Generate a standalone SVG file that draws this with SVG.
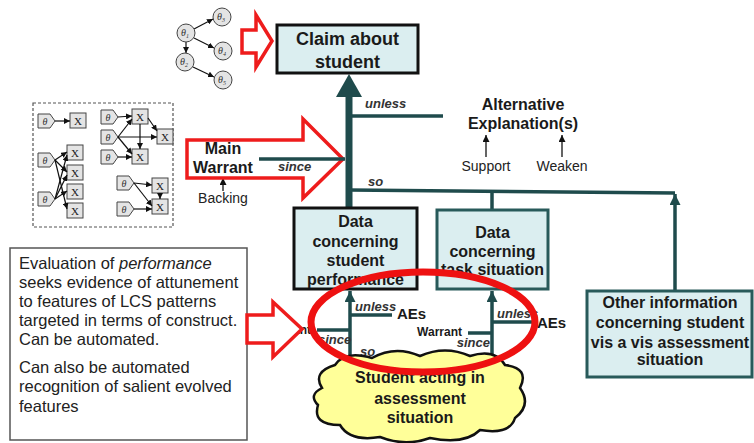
<svg xmlns="http://www.w3.org/2000/svg" width="754" height="443" viewBox="0 0 754 443">
<style>
.b{font-family:"Liberation Sans",Arial,sans-serif;font-weight:bold;fill:#1a1a1a;text-anchor:middle}
.bs{text-anchor:start}
.be{text-anchor:end}
.r{font-family:"Liberation Sans",Arial,sans-serif;fill:#222;}
.bi{font-family:"Liberation Sans",Arial,sans-serif;font-weight:bold;font-style:italic;fill:#333;font-size:13px}
.box{fill:#dbeef0;stroke:#285a5a;stroke-width:3}
.tl{stroke:#1f4b4c;stroke-width:3.5;fill:none}
.red{fill:#fff;stroke:#ee1c1c;stroke-width:3.5;stroke-linejoin:miter}
.nl{stroke:#111;stroke-width:1.2;fill:none;marker-end:url(#sm)}
.th{fill:#e4e4e4;stroke:#444;stroke-width:1}
.ser{font-family:"Liberation Serif",serif;font-style:italic;font-size:10px;fill:#333;text-anchor:middle}
.xs{font-family:"Liberation Serif",serif;font-size:11px;fill:#222;text-anchor:middle}
</style>
<defs>
<marker id="ah" viewBox="0 0 10 10" refX="10" refY="5" markerWidth="11" markerHeight="11" markerUnits="userSpaceOnUse" orient="auto"><path d="M0,0 L10,5 L0,10 z" fill="#1f4b4c"/></marker>
<marker id="ab" viewBox="0 0 10 10" refX="10" refY="5" markerWidth="7" markerHeight="7" markerUnits="userSpaceOnUse" orient="auto"><path d="M0,0 L10,5 L0,10 z" fill="#111"/></marker>
<marker id="sm" viewBox="0 0 10 10" refX="10" refY="5" markerWidth="6" markerHeight="6" markerUnits="userSpaceOnUse" orient="auto"><path d="M0,0 L10,5 L0,10 z" fill="#111"/></marker>
<g id="tn"><polygon class="th" points="0,0 12,0 17,7 12,14 0,14"/><text class="ser" x="7" y="11">θ</text></g>
<g id="xn"><rect class="th" width="16" height="15"/><text class="xs" x="8" y="12">X</text></g>
</defs>
<rect width="754" height="443" fill="#fff"/>

<!-- network box -->
<g id="network">
<rect x="33" y="103" width="140" height="124" fill="#fff" stroke="#555" stroke-width="1.2" stroke-dasharray="3,2"/>
<use href="#tn" x="38" y="114"/><use href="#xn" x="70" y="113"/>
<line class="nl" x1="55" y1="121" x2="70" y2="121"/>
<use href="#tn" x="101" y="110"/><use href="#tn" x="101" y="130"/><use href="#tn" x="101" y="150"/>
<use href="#xn" x="132" y="109"/><use href="#xn" x="157" y="129"/><use href="#xn" x="132" y="149"/>
<line class="nl" x1="118" y1="117" x2="132" y2="116"/>
<line class="nl" x1="118" y1="137" x2="132" y2="119"/>
<line class="nl" x1="118" y1="137" x2="157" y2="137"/>
<line class="nl" x1="118" y1="137" x2="132" y2="154"/>
<line class="nl" x1="118" y1="157" x2="132" y2="157"/>
<line class="nl" x1="140" y1="124" x2="140" y2="149"/>
<line class="nl" x1="148" y1="118" x2="157" y2="131"/>
<use href="#tn" x="38" y="153"/><use href="#tn" x="38" y="192"/>
<use href="#xn" x="67" y="145"/><use href="#xn" x="67" y="165"/><use href="#xn" x="67" y="184"/><use href="#xn" x="67" y="203"/>
<line class="nl" x1="55" y1="160" x2="67" y2="152"/>
<line class="nl" x1="55" y1="160" x2="67" y2="172"/>
<line class="nl" x1="55" y1="160" x2="67" y2="209"/>
<line class="nl" x1="55" y1="199" x2="67" y2="155"/>
<line class="nl" x1="55" y1="199" x2="67" y2="175"/>
<line class="nl" x1="55" y1="199" x2="67" y2="191"/>
<use href="#tn" x="117" y="176"/><use href="#tn" x="117" y="202"/>
<use href="#xn" x="152" y="178"/><use href="#xn" x="152" y="199"/>
<line class="nl" x1="134" y1="183" x2="152" y2="185"/>
<line class="nl" x1="134" y1="183" x2="152" y2="206"/>
<line class="nl" x1="160" y1="193" x2="160" y2="199"/>
<line class="nl" x1="134" y1="209" x2="152" y2="209"/>
</g>

<!-- small theta graph -->
<g id="thetagraph">
<line class="nl" x1="194" y1="29" x2="213" y2="19"/>
<line class="nl" x1="194" y1="38" x2="214" y2="48"/>
<line class="nl" x1="186" y1="42" x2="186" y2="53"/>
<line class="nl" x1="193" y1="67" x2="214" y2="77"/>
<g class="th"><circle cx="186" cy="33" r="9"/><circle cx="222" cy="17" r="9"/><circle cx="223" cy="51" r="9"/><circle cx="185" cy="62" r="9"/><circle cx="223" cy="80" r="9"/></g>
<text class="ser" x="185" y="36">θ<tspan font-size="6" dy="2">1</tspan></text>
<text class="ser" x="221" y="20">θ<tspan font-size="6" dy="2">3</tspan></text>
<text class="ser" x="222" y="54">θ<tspan font-size="6" dy="2">4</tspan></text>
<text class="ser" x="184" y="65">θ<tspan font-size="6" dy="2">2</tspan></text>
<text class="ser" x="222" y="83">θ<tspan font-size="6" dy="2">5</tspan></text>
</g>

<polygon class="red" points="242,30 256,30 256,15 272,41 256,67 256,53 242,53"/>

<!-- connectors -->
<g id="connectors">
<line x1="349" y1="208" x2="349" y2="95" stroke="#1f4b4c" stroke-width="7"/>
<polygon points="336,97 349,74 362,97" fill="#1f4b4c"/>
<line class="tl" x1="349" y1="116" x2="443" y2="116"/>
<path class="tl" d="M349,190 L675,193"/>
<line class="tl" x1="492" y1="210" x2="492" y2="191"/>
<line class="tl" x1="675" y1="291" x2="675" y2="194" marker-end="url(#ah)"/>
<line x1="486" y1="157" x2="486" y2="135" stroke="#111" stroke-width="1.3" marker-end="url(#ab)"/>
<line x1="562" y1="157" x2="562" y2="135" stroke="#111" stroke-width="1.3" marker-end="url(#ab)"/>
<line x1="223" y1="191" x2="223" y2="178" stroke="#111" stroke-width="1.3" marker-end="url(#ab)"/>
<line class="tl" x1="350" y1="372" x2="350" y2="291" marker-end="url(#ah)"/>
<line class="tl" x1="350" y1="315" x2="392" y2="315"/>
<line class="tl" x1="317" y1="330" x2="350" y2="330"/>
<line class="tl" x1="492" y1="372" x2="492" y2="291" marker-end="url(#ah)"/>
<line class="tl" x1="492" y1="322" x2="533" y2="322"/>
<line class="tl" x1="468" y1="333" x2="492" y2="333"/>
</g>

<!-- main warrant -->
<g id="mainwarrant">
<polygon class="red" points="187,140 303,140 303,119 343,159 303,198 303,178 187,178"/>
<line class="tl" x1="259" y1="159" x2="345" y2="159"/>
<text class="b" x="223" y="154" font-size="16">Main</text>
<text class="b" x="223" y="173" font-size="16">Warrant</text>
<text class="bi" x="278" y="171">since</text>
<text class="r" x="223" y="203" font-size="14" text-anchor="middle">Backing</text>
</g>

<text class="bi" x="365" y="108">unless</text>
<text class="bi" x="368" y="186">so</text>

<g id="claim">
<rect x="277" y="25" width="141" height="48" fill="#dbeef0" stroke="#111" stroke-width="3"/>
<text class="b" x="347.5" y="45" font-size="18">Claim about</text>
<text class="b" x="347.5" y="68" font-size="18">student</text>
</g>

<g id="alt">
<text class="b" x="523" y="110" font-size="16">Alternative</text>
<text class="b" x="523" y="129" font-size="16">Explanation(s)</text>
<text class="r" x="486" y="171" font-size="14" text-anchor="middle">Support</text>
<text class="r" x="562" y="171" font-size="14" text-anchor="middle">Weaken</text>
</g>

<g id="dataperf">
<rect x="294" y="208" width="123" height="81" fill="#dbeef0" stroke="#111" stroke-width="3"/>
<text class="b" x="355.5" y="227" font-size="16">Data</text>
<text class="b" x="355.5" y="247" font-size="16">concerning</text>
<text class="b" x="355.5" y="266" font-size="16">student</text>
<text class="b" x="355.5" y="285" font-size="16">performance</text>
</g>

<g id="datatask">
<rect class="box" x="437" y="210" width="111" height="79"/>
<text class="b" x="492.5" y="238" font-size="16">Data</text>
<text class="b" x="492.5" y="257" font-size="16">concerning</text>
<text class="b" x="492.5" y="275" font-size="16">task situation</text>
</g>

<g id="otherinfo">
<rect class="box" x="587" y="291" width="165" height="86"/>
<text class="b" x="670" y="308" font-size="16">Other information</text>
<text class="b" x="670" y="328" font-size="16">concerning student</text>
<text class="b" x="670" y="348" font-size="16">vis a vis assessment</text>
<text class="b" x="670" y="365" font-size="16">situation</text>
</g>

<!-- small argument labels -->
<g id="smallargs">
<text class="bi" x="355" y="311" font-size="12">unless</text>
<text class="b bs" x="397" y="319" font-size="15">AEs</text>
<text class="bi" x="318" y="344" font-size="12">since</text>
<text class="bi" x="360" y="356" font-size="12">so</text>
<text class="bi" x="497" y="318" font-size="12">unless</text>
<text class="b bs" x="537" y="328" font-size="15">AEs</text>
<text class="b be" x="462" y="336" font-size="12">Warrant</text>
<text class="bi be" x="490" y="347" font-size="12">since</text>
<text class="b be" x="311" y="334" font-size="12">Warrant</text>
</g>

<!-- cloud -->
<g id="cloud">
<path d="M322,388 Q312,372 335,365 Q345,350 372,358 Q395,345 420,356 Q445,345 470,356 Q495,348 505,365 Q530,368 520,388 Q532,405 515,418 Q510,435 480,430 Q465,445 430,438 Q405,447 380,437 Q350,442 340,425 Q312,425 318,405 Q308,395 322,388 Z" fill="#ffff99" stroke="#111" stroke-width="2.5"/>
<text class="b" x="420" y="383" font-size="16">Student acting in</text>
<text class="b" x="420" y="404" font-size="16">assessment</text>
<text class="b" x="420" y="423" font-size="16">situation</text>
</g>

<!-- left note -->
<g id="note">
<rect x="10" y="248" width="237" height="192" fill="#fff" stroke="#555" stroke-width="1.5"/>
<g class="r" font-size="16.5">
<text x="19" y="269">Evaluation of <tspan font-style="italic">performance</tspan></text>
<text x="19" y="288">seeks evidence of attunement</text>
<text x="19" y="307">to features of LCS patterns</text>
<text x="19" y="326">targeted in terms of construct.</text>
<text x="19" y="345">Can be automated.</text>
<text x="19" y="373">Can also be automated</text>
<text x="19" y="392">recognition of salient evolved</text>
<text x="19" y="412">features</text>
</g>
</g>

<polygon class="red" points="247,315 273,315 273,302 302,329 273,357 273,343 247,343"/>

<ellipse cx="423" cy="322" rx="112" ry="50" fill="none" stroke="#ee1111" stroke-width="7"/>
</svg>
